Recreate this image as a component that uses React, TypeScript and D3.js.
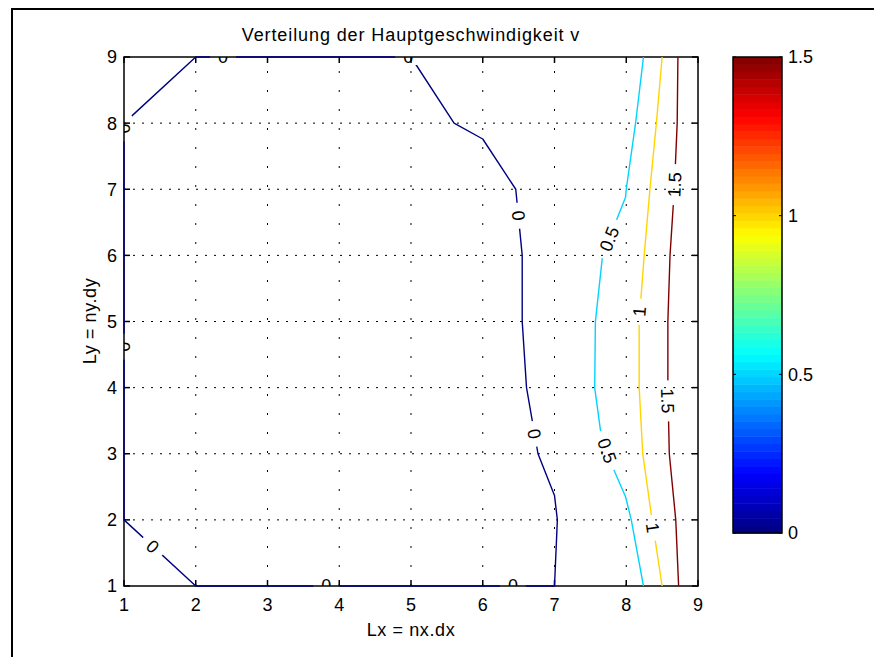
import React from 'react';
import * as d3 from 'd3';

// contour levels of the main velocity v
const levels = [0, 0.5, 1, 1.5];
const xTicks = [1, 2, 3, 4, 5, 6, 7, 8, 9];
const yTicks = [1, 2, 3, 4, 5, 6, 7, 8, 9];
const cbTicks = [0, 0.5, 1, 1.5];

// contour polylines [x, y]
const line0 = [
  [1, 8], [2, 9], [5, 9], [5.6, 8], [6, 7.76], [6.46, 7], [6.55, 6], [6.55, 5],
  [6.61, 4], [6.77, 3], [7, 2.37], [7.04, 2], [7, 1], [2, 1], [1, 2], [1, 8],
];
const line05 = [
  [8.24, 9], [8.13, 8], [8.0, 7], [7.99, 6.88], [7.67, 6], [7.57, 5], [7.56, 4],
  [7.64, 3.36], [7.83, 2.75], [7.99, 2.35], [8.07, 2], [8.24, 1],
];
const line1 = [
  [8.5, 9], [8.42, 8], [8.33, 7], [8.25, 6], [8.18, 5], [8.18, 4], [8.23, 3],
  [8.36, 2], [8.5, 1],
];
const line15 = [
  [8.72, 9], [8.71, 8], [8.67, 7], [8.61, 6], [8.58, 5], [8.58, 4], [8.6, 3],
  [8.69, 2], [8.73, 1],
];

// where clabel put its text
const labels0 = [
  [2.38, 9], [4.96, 9], [1, 7.92], [1, 4.62], [1.4, 1.6], [3.82, 1], [6.42, 1],
  [6.5, 6.6], [6.72, 3.3],
];
const labels05 = [[7.76, 6.25], [7.735, 3.05]];
const labels1 = [[8.18, 5.15], [8.37, 1.88]];
const labels15 = [[8.67, 7.07], [8.58, 3.8]];

const contours = [
  { level: levels[0], pts: line0, labels: labels0 },
  { level: levels[1], pts: line05, labels: labels05 },
  { level: levels[2], pts: line1, labels: labels1 },
  { level: levels[3], pts: line15, labels: labels15 },
];

const cMin = 0;
const cMax = 1.5;
const nColors = 64;

function jet(t: number) {
  const f = (v: number) => Math.round(255 * Math.max(0, Math.min(1, v)));
  const r = f(1.5 - Math.abs(4 * t - 3));
  const g = f(1.5 - Math.abs(4 * t - 2));
  const b = f(1.5 - Math.abs(4 * t - 1));
  return `rgb(${r},${g},${b})`;
}

const FONT = 'Liberation Sans, Arial, Helvetica, sans-serif';

export default function App() {
  const W = 874;
  const H = 657;

  const x = d3.scaleLinear().domain([1, 9]).range([124, 698]);
  const y = d3.scaleLinear().domain([1, 9]).range([586, 57]);
  const cb = d3.scaleLinear().domain([cMin, cMax]).range([533, 57]);
  const cbX0 = 733;
  const cbX1 = 782;

  const line = d3.line<number[]>()
    .x((d) => x(d[0]))
    .y((d) => y(d[1]));

  // text angle follows the closest segment, kept readable
  const angleAt = (pts: number[][], p: number[]) => {
    const px = x(p[0]);
    const py = y(p[1]);
    let best = Infinity;
    let ang = 0;
    for (let i = 0; i < pts.length - 1; i++) {
      const ax = x(pts[i][0]), ay = y(pts[i][1]);
      const bx = x(pts[i + 1][0]), by = y(pts[i + 1][1]);
      const dx = bx - ax, dy = by - ay;
      const len2 = dx * dx + dy * dy || 1;
      const t = Math.max(0, Math.min(1, ((px - ax) * dx + (py - ay) * dy) / len2));
      const cx = ax + t * dx, cy = ay + t * dy;
      const dist = (px - cx) ** 2 + (py - cy) ** 2;
      if (dist < best) {
        best = dist;
        ang = (Math.atan2(dy, dx) * 180) / Math.PI;
      }
    }
    if (ang > 90) ang -= 180;
    if (ang < -90) ang += 180;
    return ang;
  };

  const textWidth = (s: string) =>
    s.split('').reduce((w, ch) => w + (ch === '.' ? 5 : 10), 0);

  const placed = contours.flatMap((c, ci) =>
    c.labels.map((p, li) => ({
      key: `${ci}-${li}`,
      text: String(c.level),
      cx: x(p[0]),
      cy: y(p[1]),
      angle: angleAt(c.pts, p),
    }))
  );

  const bands = d3.range(nColors);
  const bandH = (cb(cMin) - cb(cMax)) / nColors;

  return (
    <svg
      width={W}
      height={H}
      style={{ position: 'absolute', left: 0, top: 0, background: '#fff' }}
      fontFamily={FONT}
    >
      <defs>
        <clipPath id="plotClip">
          <rect x={x(1)} y={y(9)} width={x(9) - x(1)} height={y(1) - y(9)} />
        </clipPath>
        <mask id="labelGaps" maskUnits="userSpaceOnUse" x={0} y={0} width={W} height={H}>
          <rect x={0} y={0} width={W} height={H} fill="#fff" />
          {placed.map((l) => {
            const w = textWidth(l.text) + 16;
            return (
              <rect
                key={l.key}
                x={-w / 2}
                y={-8}
                width={w}
                height={16}
                fill="#000"
                transform={`translate(${l.cx},${l.cy}) rotate(${l.angle})`}
              />
            );
          })}
        </mask>
      </defs>

      <rect x={0} y={0} width={W} height={H} fill="#fff" />
      {/* outer frame */}
      <line x1={11} y1={9} x2={W} y2={9} stroke="#000" strokeWidth={2} />
      <line x1={12} y1={8} x2={12} y2={H} stroke="#000" strokeWidth={2} />

      {/* title */}
      <text x={411} y={41} textAnchor="middle" fontSize={18} letterSpacing={0.9}>
        Verteilung der Hauptgeschwindigkeit v
      </text>

      {/* grid */}
      <g stroke="#000" strokeWidth={1}>
        {xTicks.slice(1, -1).map((t) => (
          <line key={`gx${t}`} x1={x(t)} x2={x(t)} y1={y(1)} y2={y(9)} strokeDasharray="2,17" />
        ))}
        {yTicks.slice(1, -1).map((t) => (
          <line key={`gy${t}`} x1={x(1)} x2={x(9)} y1={y(t)} y2={y(t)} strokeDasharray="2,7" />
        ))}
      </g>

      {/* axes box with inward ticks */}
      <g stroke="#000" strokeWidth={1.5}>
        <rect x={x(1)} y={y(9)} width={x(9) - x(1)} height={y(1) - y(9)} fill="none" />
        {xTicks.map((t) => (
          <g key={`tx${t}`}>
            <line x1={x(t)} x2={x(t)} y1={y(1)} y2={y(1) - 6} />
            <line x1={x(t)} x2={x(t)} y1={y(9)} y2={y(9) + 6} />
          </g>
        ))}
        {yTicks.map((t) => (
          <g key={`ty${t}`}>
            <line x1={x(1)} x2={x(1) + 6} y1={y(t)} y2={y(t)} />
            <line x1={x(9)} x2={x(9) - 6} y1={y(t)} y2={y(t)} />
          </g>
        ))}
      </g>

      {/* contour lines */}
      <g mask="url(#labelGaps)" fill="none" strokeWidth={1.4} strokeLinejoin="round">
        {contours.map((c) => (
          <path
            key={`c${c.level}`}
            d={line(c.pts) || ''}
            stroke={jet((c.level - cMin) / (cMax - cMin))}
          />
        ))}
      </g>

      {/* contour labels */}
      <g clipPath="url(#plotClip)" fontSize={18} fill="#000">
        {placed.map((l) => (
          <text
            key={l.key}
            textAnchor="middle"
            dy="0.36em"
            transform={`translate(${l.cx},${l.cy}) rotate(${l.angle})`}
          >
            {l.text}
          </text>
        ))}
      </g>

      {/* tick labels */}
      <g fontSize={18} fill="#000">
        {xTicks.map((t) => (
          <text key={`lx${t}`} x={x(t)} y={611} textAnchor="middle">
            {t}
          </text>
        ))}
        {yTicks.map((t) => (
          <text key={`ly${t}`} x={117} y={y(t)} dy="0.36em" textAnchor="end">
            {t}
          </text>
        ))}
      </g>

      {/* axis labels */}
      <text x={411} y={636} textAnchor="middle" fontSize={18} letterSpacing={0.6}>
        Lx = nx.dx
      </text>
      <text
        transform={`translate(96,321) rotate(-90)`}
        textAnchor="middle"
        fontSize={18}
        letterSpacing={0.6}
      >
        Ly = ny.dy
      </text>

      {/* colorbar */}
      <g>
        {bands.map((i) => (
          <rect
            key={`b${i}`}
            x={cbX0}
            y={cb(cMin) - (i + 1) * bandH}
            width={cbX1 - cbX0}
            height={bandH + 0.5}
            fill={jet((i + 0.5) / nColors)}
          />
        ))}
        <rect
          x={cbX0}
          y={cb(cMax)}
          width={cbX1 - cbX0}
          height={cb(cMin) - cb(cMax)}
          fill="none"
          stroke="#000"
          strokeWidth={1.5}
        />
        {cbTicks.map((t) => (
          <g key={`cb${t}`}>
            <line x1={cbX0} x2={cbX0 + 3} y1={cb(t)} y2={cb(t)} stroke="#000" />
            <line x1={cbX1} x2={cbX1 - 3} y1={cb(t)} y2={cb(t)} stroke="#000" />
            <text x={788} y={cb(t)} dy="0.36em" fontSize={18}>
              {t}
            </text>
          </g>
        ))}
      </g>
    </svg>
  );
}
